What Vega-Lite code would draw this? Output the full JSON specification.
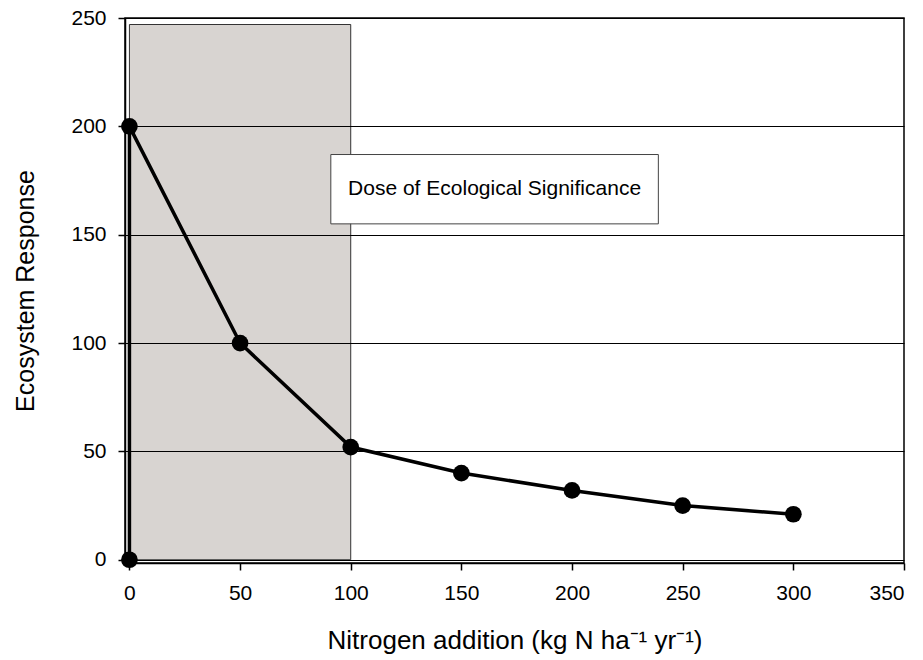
{
  "$schema": "https://vega.github.io/schema/vega-lite/v6.json",
  "autosize": "none",
  "width": 779,
  "height": 545,
  "padding": {"left": 125, "top": 18, "right": 19, "bottom": 97},
  "background": "white",
  "config": {
    "font": "Liberation Sans",
    "view": {"stroke": "black", "strokeWidth": 1.5},
    "axis": {
      "domainColor": "black",
      "domainWidth": 1.5,
      "tickColor": "black",
      "tickWidth": 1.5,
      "tickSize": 7,
      "labelFont": "Liberation Sans",
      "labelFontSize": 21,
      "labelColor": "black",
      "titleFont": "Liberation Sans",
      "titleFontSize": 26,
      "titleFontWeight": "normal",
      "titleColor": "black"
    }
  },
  "datasets": {
    "curve": [
      {"order": 1, "n": 0, "r": 0},
      {"order": 2, "n": 0, "r": 200},
      {"order": 3, "n": 50, "r": 100},
      {"order": 4, "n": 100, "r": 52},
      {"order": 5, "n": 150, "r": 40},
      {"order": 6, "n": 200, "r": 32},
      {"order": 7, "n": 250, "r": 25},
      {"order": 8, "n": 300, "r": 21}
    ],
    "zone": [{"x1": 0, "x2": 100, "y1": 0, "y2": 247}],
    "box": [{"x1": 91, "x2": 239, "y1": 155, "y2": 187, "xm": 165, "ym": 171, "label": "Dose of Ecological Significance"}]
  },
  "layer": [
    {
      "data": {"name": "zone"},
      "mark": {"type": "rect", "fill": "#d8d4d1", "stroke": "#333333", "strokeWidth": 1},
      "encoding": {
        "x": {"field": "x1", "type": "quantitative", "scale": {"domain": [-2, 350], "nice": false, "zero": false},
          "axis": {"values": [0, 50, 100, 150, 200, 250, 300, 350], "grid": false, "title": "Nitrogen addition (kg N ha⁻¹ yr⁻¹)", "titlePadding": 24, "labelPadding": 12}},
        "x2": {"field": "x2"},
        "y": {"field": "y1", "type": "quantitative", "scale": {"domain": [-1.5, 250], "nice": false, "zero": false},
          "axis": {"values": [0, 50, 100, 150, 200, 250], "grid": true, "gridColor": "black", "gridWidth": 1.2, "gridOpacity": 1, "zindex": 1, "title": "Ecosystem Response", "titleFontSize": 25, "titlePadding": 32, "labelPadding": 12}},
        "y2": {"field": "y2"}
      }
    },
    {
      "data": {"name": "box"},
      "mark": {"type": "rect", "fill": "white", "stroke": "#444444", "strokeWidth": 1},
      "encoding": {
        "x": {"field": "x1", "type": "quantitative"},
        "x2": {"field": "x2"},
        "y": {"field": "y1", "type": "quantitative"},
        "y2": {"field": "y2"}
      }
    },
    {
      "data": {"name": "box"},
      "mark": {"type": "text", "fontSize": 21, "color": "black", "align": "center", "baseline": "middle"},
      "encoding": {
        "x": {"field": "xm", "type": "quantitative"},
        "y": {"field": "ym", "type": "quantitative"},
        "text": {"field": "label"}
      }
    },
    {
      "data": {"name": "curve"},
      "mark": {"type": "line", "color": "black", "strokeWidth": 3.5},
      "encoding": {
        "x": {"field": "n", "type": "quantitative"},
        "y": {"field": "r", "type": "quantitative"},
        "order": {"field": "order"}
      }
    },
    {
      "data": {"name": "curve"},
      "mark": {"type": "point", "filled": true, "color": "black", "opacity": 1, "size": 280},
      "encoding": {
        "x": {"field": "n", "type": "quantitative"},
        "y": {"field": "r", "type": "quantitative"}
      }
    }
  ]
}
